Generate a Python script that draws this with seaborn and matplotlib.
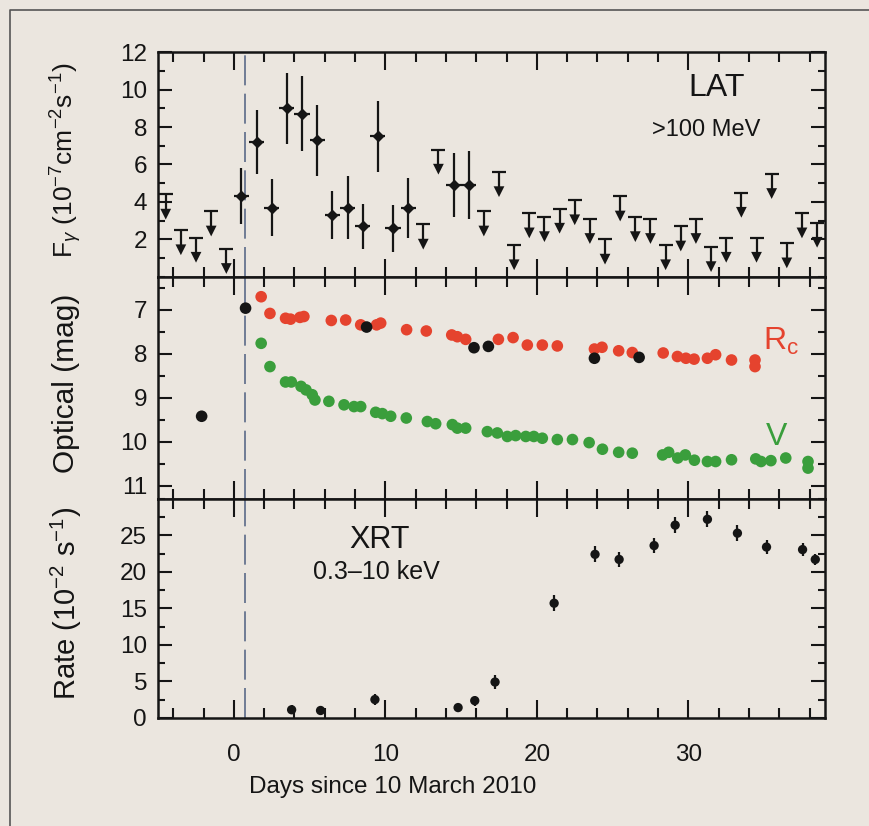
import numpy as np
import pandas as pd
import matplotlib
matplotlib.use("Agg")
import matplotlib.pyplot as plt
import seaborn as sns
from matplotlib.ticker import MultipleLocator
from matplotlib.lines import Line2D

# ── LAT (>100 MeV) ──────────────────────────────
lat_day  = [0.5, 1.5, 2.5, 3.5, 4.5, 5.5, 6.5, 7.5, 8.5, 9.5, 10.5, 11.5, 14.5, 15.5]
lat_flux = [4.3, 7.2, 3.7, 9.0, 8.7, 7.3, 3.3, 3.7, 2.7, 7.5, 2.6, 3.7, 4.9, 4.9]
lat_err  = [1.5, 1.7, 1.5, 1.9, 2.0, 1.9, 1.3, 1.7, 1.2, 1.9, 1.25, 1.6, 1.7, 1.8]

ul_day = [-4.5, -3.5, -2.5, -1.5, -0.5, 12.5, 13.5, 16.5, 17.5, 18.5, 19.5, 20.5, 21.5,
          22.5, 23.5, 24.5, 25.5, 26.5, 27.5, 28.5, 29.5, 30.5, 31.5, 32.5, 33.5, 34.5,
          35.5, 36.5, 37.5, 38.5]
ul_val = [4.4, 2.5, 2.1, 3.5, 1.5, 2.8, 6.8, 3.5, 5.6, 1.7, 3.4, 3.2, 3.65,
          4.1, 3.1, 2.0, 4.3, 3.2, 3.1, 1.7, 2.7, 3.1, 1.6, 2.1, 4.5, 2.1,
          5.5, 1.8, 3.4, 2.9]

# ── Optical ─────────────────────────────────────
rc_day = [1.8, 2.38, 3.41, 3.74, 4.36, 4.62, 6.43, 7.38, 8.37, 9.42, 9.69, 11.4, 12.7,
          14.38, 14.75, 15.3, 17.46, 18.43, 19.37, 20.36, 21.35, 23.8, 24.3, 25.4, 26.3,
          28.34, 29.28, 29.84, 30.38, 31.26, 31.8, 32.85, 34.4, 34.4]
rc_mag = [6.7, 7.08, 7.19, 7.21, 7.17, 7.15, 7.24, 7.23, 7.34, 7.34, 7.30, 7.45, 7.48,
          7.57, 7.61, 7.67, 7.67, 7.63, 7.80, 7.80, 7.82, 7.89, 7.85, 7.93, 7.97,
          7.98, 8.06, 8.10, 8.12, 8.10, 8.02, 8.14, 8.14, 8.29]

v_day = [1.8, 2.38, 3.41, 3.79, 4.43, 4.76, 5.17, 5.35, 6.27, 7.27, 7.93, 8.37, 9.36,
         9.8, 10.35, 11.38, 12.77, 13.32, 14.42, 14.75, 15.3, 16.73, 17.39, 18.05, 18.6,
         19.27, 19.8, 20.36, 21.35, 22.35, 23.45, 24.33, 25.4, 26.3, 28.3, 28.7, 29.3,
         29.8, 30.4, 31.26, 31.8, 32.85, 34.45, 34.8, 35.45, 36.43, 37.9, 37.9]
v_mag = [7.76, 8.29, 8.64, 8.64, 8.74, 8.82, 8.93, 9.05, 9.08, 9.16, 9.20, 9.20, 9.33,
         9.36, 9.42, 9.46, 9.54, 9.59, 9.61, 9.69, 9.69, 9.77, 9.80, 9.88, 9.86,
         9.88, 9.88, 9.92, 9.95, 9.95, 10.02, 10.17, 10.24, 10.26, 10.30, 10.24, 10.37,
         10.30, 10.42, 10.45, 10.45, 10.41, 10.39, 10.45, 10.43, 10.37, 10.45, 10.60]

other_day = [-2.13, 0.77, 8.76, 15.85, 16.8, 23.8, 26.75]
other_mag = [9.42, 6.96, 7.39, 7.86, 7.83, 8.10, 8.08]

# ── XRT (0.3-10 keV) ────────────────────────────
xrt_day  = [3.81, 5.72, 9.31, 14.8, 15.9, 17.24, 21.14, 23.84, 25.43, 27.74, 29.13,
            31.26, 33.24, 35.16, 37.54, 38.38]
xrt_rate = [1.1, 1.0, 2.5, 1.4, 2.35, 4.9, 15.7, 22.4, 21.7, 23.6, 26.4,
            27.2, 25.3, 23.4, 23.05, 21.7]
xrt_err  = [0.6, 0.6, 0.8, 0.6, 0.7, 1.0, 1.1, 1.1, 1.0, 1.0, 1.1,
            1.1, 1.1, 1.0, 0.9, 0.8]

trigger_day = 0.7

BG    = "#ebe6df"
INK   = "#151515"
RED   = "#e5432e"
GREEN = "#3a9e3c"

sns.set_theme(style="ticks")
plt.rcParams["font.family"] = ["Liberation Sans", "DejaVu Sans"]
plt.rcParams["mathtext.fontset"] = "custom"
plt.rcParams["mathtext.rm"] = "Liberation Sans"
plt.rcParams["mathtext.it"] = "Liberation Sans:italic"

fig, axes = plt.subplots(3, 1, figsize=(8.69, 8.26), dpi=100, sharex=True,
                         gridspec_kw={"height_ratios": [225, 222, 219], "hspace": 0})
fig.subplots_adjust(left=0.182, right=0.949, top=0.937, bottom=0.131)
fig.patch.set_facecolor(BG)
ax_lat, ax_opt, ax_xrt = axes

for ax in axes:
    ax.set_facecolor(BG)
    for sp in ax.spines.values():
        sp.set_linewidth(1.8)
        sp.set_color(INK)
    ax.tick_params(which="both", direction="in", top=True, right=True,
                   width=1.5, color=INK, labelsize=17.5, labelcolor=INK, pad=8)
    ax.tick_params(axis="y", which="major", length=10)
    ax.tick_params(axis="y", which="minor", length=5)
    ax.tick_params(axis="x", which="major", length=13, pad=19)
    ax.tick_params(axis="x", which="minor", length=7)
    ax.xaxis.set_major_locator(MultipleLocator(10))
    ax.xaxis.set_minor_locator(MultipleLocator(2))
    ax.axvline(trigger_day, color="#5a6a88", lw=1.2, ls=(0, (18, 5)), zorder=1)

ax_lat.set_xlim(-5, 39)

# LAT panel
ul_day_a = np.array(ul_day)
ul_val_a = np.array(ul_val)
ax_lat.vlines(ul_day_a, ul_val_a - 1.05, ul_val_a, color=INK, lw=1.6)
ax_lat.scatter(ul_day_a, ul_val_a, marker="_", s=110, color=INK, linewidths=1.6)
ax_lat.scatter(ul_day_a, ul_val_a - 1.05, marker="v", s=60, color=INK, edgecolors="none")
ax_lat.errorbar(lat_day, lat_flux, yerr=lat_err, xerr=0.5, fmt="D", ms=5.5,
                color=INK, ecolor=INK, elinewidth=1.6, capsize=0)
ax_lat.set_ylim(0, 12)
ax_lat.set_yticks([2, 4, 6, 8, 10, 12])
ax_lat.yaxis.set_minor_locator(MultipleLocator(1))
ax_lat.text(0.838, 0.84, "LAT", transform=ax_lat.transAxes, ha="center", va="center",
            fontsize=23, color=INK)
ax_lat.text(0.822, 0.653, ">100 MeV", transform=ax_lat.transAxes, ha="center",
            va="center", fontsize=17, color=INK)
ax_lat.set_ylabel(r"F$_\gamma$ (10$^{-7}$cm$^{-2}$s$^{-1}$)", fontsize=19, color=INK)

# Optical panel
opt = pd.DataFrame({
    "day": rc_day + v_day + other_day,
    "mag": rc_mag + v_mag + other_mag,
    "band": ["Rc"] * len(rc_day) + ["V"] * len(v_day) + ["other"] * len(other_day),
})
sns.scatterplot(data=opt, x="day", y="mag", hue="band",
                palette={"Rc": RED, "V": GREEN, "other": INK},
                s=70, edgecolor="none", legend=False, ax=ax_opt, zorder=3)
ax_opt.set_ylim(11.3, 6.25)
ax_opt.set_yticks([7, 8, 9, 10, 11])
ax_opt.yaxis.set_minor_locator(MultipleLocator(0.5))
ax_opt.text(0.934, 0.709, r"R$_\mathrm{c}$", transform=ax_opt.transAxes, ha="center",
            va="center", fontsize=23, color=RED)
ax_opt.text(0.928, 0.281, "V", transform=ax_opt.transAxes, ha="center", va="center",
            fontsize=23, color=GREEN)
ax_opt.set_ylabel("Optical (mag)", fontsize=21.5, color=INK)

# XRT panel
ax_xrt.errorbar(xrt_day, xrt_rate, yerr=xrt_err, xerr=0.15, fmt="none",
                ecolor=INK, elinewidth=1.6, capsize=0)
sns.scatterplot(x=xrt_day, y=xrt_rate, color=INK, s=45, edgecolor="none",
                ax=ax_xrt, zorder=3)
ax_xrt.set_ylim(0, 30)
ax_xrt.set_yticks([0, 5, 10, 15, 20, 25])
ax_xrt.yaxis.set_minor_locator(MultipleLocator(2.5))
ax_xrt.text(0.332, 0.813, "XRT", transform=ax_xrt.transAxes, ha="center", va="center",
            fontsize=22, color=INK)
ax_xrt.text(0.328, 0.668, "0.3\u201310 keV", transform=ax_xrt.transAxes, ha="center",
            va="center", fontsize=18, color=INK)
ax_xrt.set_ylabel(r"Rate (10$^{-2}$ s$^{-1}$)", fontsize=21, color=INK)
ax_xrt.set_xlabel("Days since 10 March 2010", fontsize=17.5, color=INK)
ax_xrt.xaxis.set_label_coords(0.352, -0.268)

for ax in axes:
    ax.yaxis.set_label_coords(-0.138, 0.52)
    ax.yaxis.label.set_va("center")

# scanned page frame
fig.add_artist(Line2D([0.0115, 0.0115, 1.0], [0.0, 0.988, 0.988],
                      transform=fig.transFigure, color="#555555", lw=1.2))

plt.savefig("out.png", dpi=100, facecolor=BG)
